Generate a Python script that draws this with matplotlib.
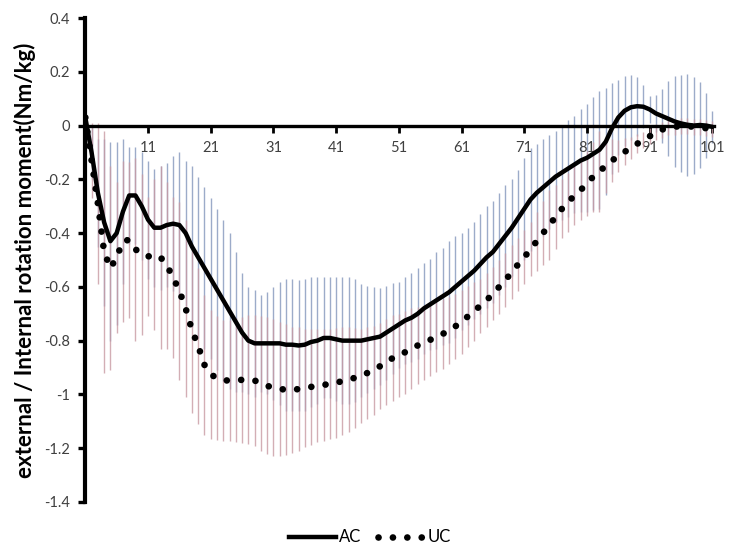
#!/usr/bin/env python3
# encoding: utf-8

# ---------------------------------------------------------------------------
# IMPORT
# ---------------------------------------------------------------------------
import matplotlib
matplotlib.use("Agg")
import matplotlib.pyplot as plt
from matplotlib.lines import Line2D
import numpy as np

# ---------------------------------------------------------------------------
# DATA (points 1..101)
# ---------------------------------------------------------------------------
ac_mean = [0.03, -0.10, -0.25, -0.36, -0.43, -0.40, -0.32, -0.26, -0.26, -0.30,
           -0.35, -0.38, -0.38, -0.37, -0.365, -0.37, -0.40, -0.45, -0.49, -0.53,
           -0.57, -0.61, -0.65, -0.69, -0.73, -0.77, -0.80, -0.81, -0.81, -0.81,
           -0.81, -0.81, -0.815, -0.815, -0.818, -0.815, -0.805, -0.80, -0.79, -0.79,
           -0.795, -0.80, -0.80, -0.80, -0.80, -0.795, -0.79, -0.785, -0.77, -0.755,
           -0.74, -0.725, -0.715, -0.70, -0.68, -0.665, -0.65, -0.635, -0.62, -0.60,
           -0.58, -0.56, -0.54, -0.515, -0.49, -0.47, -0.44, -0.41, -0.38, -0.345,
           -0.31, -0.275, -0.25, -0.23, -0.21, -0.19, -0.175, -0.16, -0.145, -0.13,
           -0.12, -0.105, -0.09, -0.06, -0.01, 0.03, 0.055, 0.068, 0.072, 0.07,
           0.06, 0.045, 0.035, 0.025, 0.015, 0.008, 0.003, 0.0, 0.002, 0.0,
           -0.005]

uc_mean = [0.03, -0.13, -0.29, -0.47, -0.53, -0.49, -0.43, -0.425, -0.46, -0.48,
           -0.487, -0.48, -0.49, -0.52, -0.565, -0.615, -0.68, -0.76, -0.82, -0.89,
           -0.925, -0.94, -0.948, -0.948, -0.946, -0.946, -0.946, -0.948, -0.96, -0.968,
           -0.975, -0.98, -0.982, -0.983, -0.98, -0.976, -0.972, -0.968, -0.965, -0.96,
           -0.957, -0.95, -0.945, -0.938, -0.93, -0.92, -0.91, -0.895, -0.88, -0.865,
           -0.855, -0.843, -0.83, -0.818, -0.807, -0.797, -0.786, -0.775, -0.762, -0.747,
           -0.73, -0.71, -0.69, -0.67, -0.65, -0.625, -0.60, -0.575, -0.545, -0.517,
           -0.49, -0.46, -0.43, -0.40, -0.37, -0.34, -0.31, -0.285, -0.26, -0.24,
           -0.215, -0.19, -0.17, -0.15, -0.13, -0.114, -0.098, -0.083, -0.068, -0.053,
           -0.04, -0.025, -0.015, -0.006, -0.004, -0.003, -0.003, -0.004, -0.006, -0.01,
           -0.012]

ac_sd = [0.06, 0.10, 0.20, 0.31, 0.37, 0.34, 0.27, 0.18, 0.18, 0.20,
         0.22, 0.22, 0.23, 0.23, 0.25, 0.27, 0.27, 0.30, 0.30, 0.30,
         0.30, 0.30, 0.30, 0.29, 0.26, 0.22, 0.20, 0.20, 0.18, 0.19,
         0.21, 0.23, 0.245, 0.245, 0.245, 0.245, 0.24, 0.235, 0.225, 0.225,
         0.23, 0.235, 0.235, 0.23, 0.21, 0.20, 0.19, 0.18, 0.175, 0.17,
         0.16, 0.16, 0.165, 0.17, 0.17, 0.17, 0.18, 0.18, 0.19, 0.19,
         0.18, 0.18, 0.18, 0.185, 0.19, 0.19, 0.19, 0.19, 0.18, 0.18,
         0.19, 0.19, 0.18, 0.18, 0.175, 0.17, 0.175, 0.18, 0.18, 0.19,
         0.20, 0.21, 0.22, 0.20, 0.17, 0.14, 0.13, 0.12, 0.11, 0.08,
         0.05, 0.07, 0.10, 0.14, 0.17, 0.18, 0.19, 0.18, 0.16, 0.12,
         0.06]

uc_sd = [0.06, 0.14, 0.30, 0.45, 0.38, 0.28, 0.30, 0.29, 0.34, 0.30,
         0.22, 0.28, 0.34, 0.31, 0.30, 0.33, 0.33, 0.31, 0.29, 0.26,
         0.24, 0.23, 0.225, 0.225, 0.23, 0.235, 0.24, 0.245, 0.25, 0.255,
         0.255, 0.25, 0.245, 0.235, 0.23, 0.22, 0.215, 0.21, 0.21, 0.205,
         0.205, 0.20, 0.195, 0.185, 0.175, 0.17, 0.165, 0.16, 0.16, 0.16,
         0.155, 0.155, 0.15, 0.145, 0.14, 0.135, 0.13, 0.13, 0.125, 0.12,
         0.12, 0.115, 0.11, 0.10, 0.10, 0.10, 0.10, 0.10, 0.10, 0.10,
         0.10, 0.10, 0.11, 0.12, 0.13, 0.12, 0.11, 0.11, 0.11, 0.11,
         0.12, 0.13, 0.15, 0.10, 0.08, 0.06, 0.05, 0.04, 0.035, 0.03,
         0.03, 0.03, 0.03, 0.03, 0.03, 0.03, 0.03, 0.03, 0.03, 0.03,
         0.03]

x_ticks = [11, 21, 31, 41, 51, 61, 71, 81, 91, 101]
y_ticks = [0.4, 0.2, 0, -0.2, -0.4, -0.6, -0.8, -1, -1.2, -1.4]
y_tick_labels = ["0.4", "0.2", "0", "-0.2", "-0.4", "-0.6", "-0.8", "-1", "-1.2", "-1.4"]

x = np.arange(1, len(ac_mean) + 1)

# ---------------------------------------------------------------------------
# PLOT
# ---------------------------------------------------------------------------
plt.rcParams['font.family'] = ['Lato', 'DejaVu Sans']

fig = plt.figure(figsize=(7.33, 5.54), dpi=100)
ax = fig.add_axes([0.1164, 0.0939, 0.858, 0.8736])

# error bars (no caps)
ax.vlines(x, np.array(ac_mean) - np.array(ac_sd), np.array(ac_mean) + np.array(ac_sd),
          colors="#9cabc9", linewidth=1.0, zorder=1)
ax.vlines(x, np.array(uc_mean) - np.array(uc_sd), np.array(uc_mean) + np.array(uc_sd),
          colors="#c99aa3", linewidth=1.0, alpha=0.8, zorder=2)

# means
dots = (0, (0.01, 2.15))
ax.plot(x, ac_mean, color="black", linewidth=3.2, solid_capstyle="round",
        solid_joinstyle="round", zorder=4)
ax.plot(x, uc_mean, color="black", linewidth=4.8, linestyle=dots,
        dash_capstyle="round", zorder=4)

ax.set_xlim(1, 101.3)
ax.set_ylim(-1.4, 0.4)

# axes look (excel style)
for s in ["top", "right"]:
    ax.spines[s].set_visible(False)
ax.spines["bottom"].set_position(("data", 0))
ax.spines["bottom"].set_linewidth(2.4)
ax.spines["left"].set_linewidth(3.0)
ax.spines["left"].set_zorder(5)

ax.set_xticks(x_ticks)
ax.set_xticklabels([str(t) for t in x_ticks])
ax.set_yticks(y_ticks)
ax.set_yticklabels(y_tick_labels)
ax.tick_params(axis="x", direction="out", length=5, width=2, pad=6,
               labelsize=10.5, labelcolor="#404040")
ax.tick_params(axis="y", direction="out", length=5, width=2.4, pad=6,
               labelsize=10.5, labelcolor="#404040")

ax.set_ylabel("external / Internal rotation moment(Nm/kg)", fontsize=16,
              fontweight="bold", labelpad=6)

# legend
h_ac = Line2D([], [], color="black", linewidth=3.2)
h_uc = Line2D([], [], color="black", linewidth=4.8, linestyle=dots,
              dash_capstyle="round")
fig.legend([h_ac, h_uc], ["AC", "UC"], loc="center", bbox_to_anchor=(0.505, 0.03),
           ncol=2, frameon=False, fontsize=12, handlelength=2.8,
           handletextpad=0.2, columnspacing=1.0)

fig.savefig("out.png", dpi=100)
